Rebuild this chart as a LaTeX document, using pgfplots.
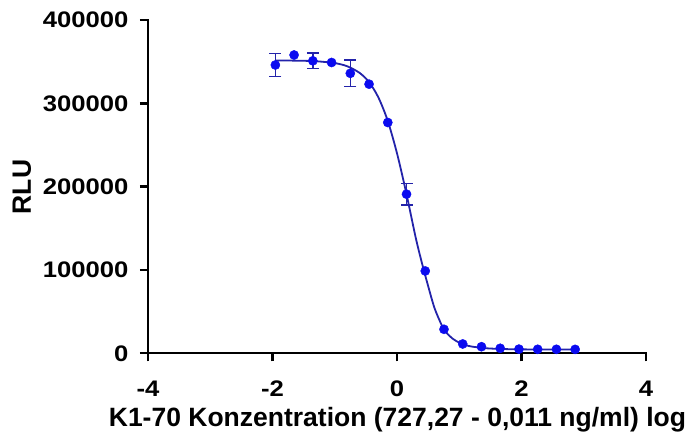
\documentclass[border=0pt]{standalone}
\usepackage{pgfplots}
\pgfplotsset{compat=1.18}
\usepackage{fontspec}
\setmainfont{Liberation Sans}
\newfontfamily\tickfont{Liberation Sans}[FakeStretch=1.14]
\definecolor{curveblue}{RGB}{35,35,170}
\definecolor{dotblue}{RGB}{10,10,240}
\begin{document}
\begin{tikzpicture}
\path[use as bounding box] (-148pt,-89.7pt) rectangle (541pt,353.3pt);
\begin{axis}[
  at={(0pt,0pt)}, anchor=south west,
  scale only axis, width=498pt, height=333.3pt,
  xmin=-4, xmax=4, ymin=0, ymax=400000,
  axis x line=bottom, axis y line=left,
  axis line style={-, line width=2.4pt, line cap=rect},
  clip=false,
  xtick={-4,-2,0,2,4}, ytick={0,100000,200000,300000,400000},
  tick align=outside, major tick length=8pt,
  tick style={line width=2.4pt, black},
  scaled y ticks=false,
  /pgf/number format/.cd, fixed, 1000 sep={}, assume math mode=true,
  /pgfplots/.cd,
  ticklabel style={font=\tickfont\fontsize{22.5}{26}\selectfont\bfseries},
  xticklabel style={yshift=-16pt},
  yticklabel style={xshift=-8pt},
  xlabel={K1-70 Konzentration (727,27 - 0,011 ng/ml) log},
  ylabel={RLU},
  label style={font=\fontsize{26.5}{30}\selectfont\bfseries},
  xlabel style={at={(rel axis cs:0.501,0)}, anchor=center, yshift=-66pt},
  ylabel style={at={(rel axis cs:0,0.499)}, anchor=center, yshift=126pt},
]
% fitted curve
\addplot[curveblue, line width=1.8pt, smooth] coordinates {
(-1.95,351420) (-1.6,351190) (-1.3,350490) (-1.0,348260) (-0.8,344480)
(-0.6,336490) (-0.45,325420) (-0.3,307240) (-0.15,279240) (0.0,240050)
(0.15,191950) (0.3,139000) (0.4,108500) (0.5,80800) (0.6,54870)
(0.7,36710) (0.75,29490) (0.8,24220) (0.9,17210) (1.0,12810)
(1.1,9910) (1.2,8100) (1.4,6230) (1.6,5370) (1.8,4940)
(2.0,4720) (2.4,4550) (2.86,4500)
};
% error bars
\addplot[curveblue, line width=1.6pt, only marks, mark=none,
  error bars/.cd, y dir=both, y explicit,
  error mark options={rotate=90, mark size=6pt, line width=1.6pt, curveblue},
  error bar style={line width=1.6pt, curveblue}]
  coordinates {
(-1.954,346000) +- (0,14000)
(-1.352,351000) +- (0,9400)
(-0.750,336000) +- (0,16000)
(0.153,191000) +- (0,13000)
};
% data points
\addplot[only marks, mark=*, mark size=4.6pt, dotblue, mark options={fill=dotblue, draw=dotblue}] coordinates {
(-1.954,346000) (-1.653,358000) (-1.352,351000) (-1.051,349000)
(-0.750,336000) (-0.449,323000) (-0.148,277000) (0.153,191000)
(0.454,98800) (0.755,28800) (1.056,11200) (1.357,7900)
(1.658,6000) (1.959,5000) (2.260,4800) (2.561,4800) (2.862,4700)
};
\end{axis}
\end{tikzpicture}
\end{document}
